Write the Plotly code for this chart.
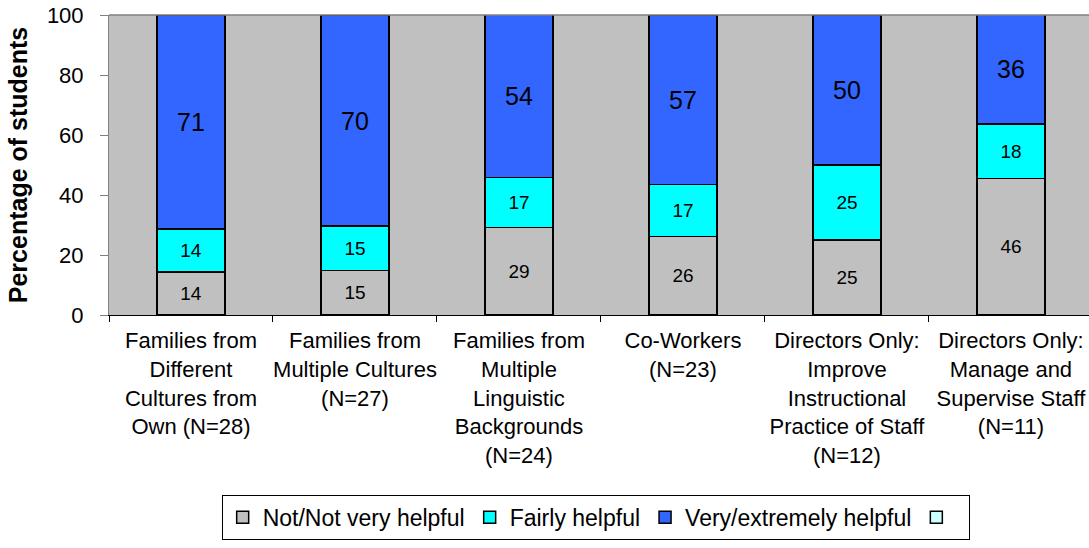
import plotly.graph_objects as go

FONT = "Liberation Sans, Arial, sans-serif"

categories = [
    "Families from<br>Different<br>Cultures from<br>Own (N=28)",
    "Families from<br>Multiple Cultures<br>(N=27)",
    "Families from<br>Multiple<br>Linguistic<br>Backgrounds<br>(N=24)",
    "Co-Workers<br>(N=23)",
    "Directors Only:<br>Improve<br>Instructional<br>Practice of Staff<br>(N=12)",
    "Directors Only:<br>Manage and<br>Supervise Staff<br>(N=11)",
]

not_helpful = [14.3, 14.8, 29.2, 26.1, 25.0, 45.5]
fairly_helpful = [14.3, 14.8, 16.7, 17.4, 25.0, 18.2]
very_helpful = [71.4, 70.4, 54.2, 56.5, 50.0, 36.4]
empty_series = [0, 0, 0, 0, 0, 0]

series = [
    ("Not/Not very helpful", not_helpful, "#C0C0C0", 19),
    ("Fairly helpful", fairly_helpful, "#00FFFF", 19),
    ("Very/extremely helpful", very_helpful, "#3366FF", 25),
]

fig = go.Figure()
for name, vals, color, fsize in series:
    fig.add_trace(go.Bar(
        name=name, x=categories, y=vals,
        marker=dict(color=color, line=dict(color="#000000", width=1.5)),
        width=0.415,
        texttemplate="%{y:.0f}",
        textposition="inside",
        insidetextanchor="middle",
        textangle=0,
        constraintext="none",
        textfont=dict(color="#000000", size=fsize, family=FONT),
        hoverinfo="skip",
    ))

fig.add_trace(go.Bar(
    name=" ", x=categories, y=empty_series,
    marker=dict(color="#CCFFFF", line=dict(color="#000000", width=1.5)),
    width=0.415, hoverinfo="skip",
))

fig.update_layout(
    width=1089, height=548,
    barmode="stack",
    plot_bgcolor="#C0C0C0",
    paper_bgcolor="#FFFFFF",
    font=dict(family=FONT, color="#000000", size=18),
    margin=dict(l=109, r=0, t=15, b=233),
    showlegend=True,
    legend=dict(
        orientation="h",
        xref="container", yref="container",
        x=0.547, y=0.015, xanchor="center", yanchor="bottom",
        bordercolor="#000000", borderwidth=1,
        font=dict(size=23, family=FONT),
        traceorder="normal",
        itemwidth=30,
    ),
)

fig.update_xaxes(
    range=[-0.5, 5.476],
    tickson="boundaries",
    tickangle=0,
    ticks="outside", ticklen=6, tickcolor="#000000",
    ticklabelstandoff=6,
    showline=True, linecolor="#000000", linewidth=1,
    tickfont=dict(size=22, family=FONT),
    showgrid=False, automargin=False,
)
fig.update_yaxes(
    range=[0, 100], dtick=20,
    ticks="outside", ticklen=8, tickcolor="#808080",
    ticklabelstandoff=12,
    showline=True, linecolor="#808080", linewidth=1,
    showgrid=False, zeroline=False, automargin=False,
    tickfont=dict(size=22, family=FONT),
    title=dict(text="<b>Percentage of students</b>", font=dict(size=25, family=FONT), standoff=12),
)

# top border line of plot area
fig.add_shape(type="line", xref="paper", yref="paper", x0=0, x1=1, y0=1, y1=1,
              line=dict(color="#808080", width=1.5))

fig.write_html("out.html", config={"displayModeBar": False},
               post_script="document.body.style.margin='0';")
